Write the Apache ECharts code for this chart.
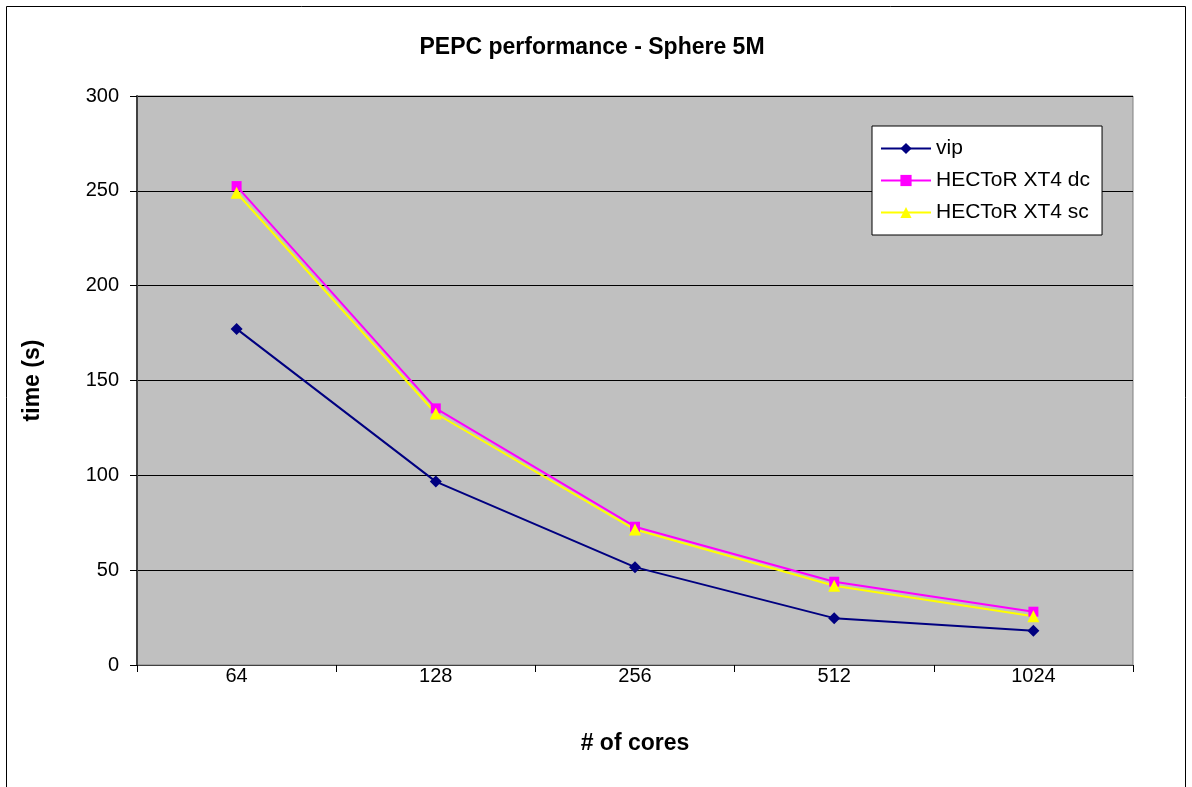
<!DOCTYPE html>
<html>
<head>
<meta charset="utf-8">
<script src="https://cdn.jsdelivr.net/npm/echarts@6/dist/echarts.min.js"></script>
<style>
html,body{margin:0;padding:0;background:#fff;}
#chart{width:1192px;height:787px;}
</style>
</head>
<body>
<div id="chart"></div>
<script>
var cores=['64','128','256','512','1024'];
var vip=[177.2,96.7,51.6,24.7,18.1];
var hectorDc=[252.5,135.3,72.9,43.9,28.1];
var hectorSc=[249,132.6,71.4,41.8,25.7];
var yTicks=[0,50,100,150,200,250,300];

var myChart=echarts.init(document.getElementById('chart'));
var font='Liberation Sans, Arial, sans-serif';
var option={
    backgroundColor:'#fff',
    animation:false,
    graphic:[
        {type:'rect',shape:{x:6.5,y:6.5,width:1179,height:800},
         style:{fill:'none',stroke:'#000',lineWidth:1},silent:true}
    ],
    title:{
        text:'PEPC performance - Sphere 5M',
        left:587,
        textAlign:'center',
        top:31,
        textStyle:{fontFamily:font,fontSize:23,fontWeight:'bold',color:'#000'}
    },
    legend:{
        orient:'vertical',
        left:872,
        top:126,
        padding:[12,12,12,8],
        itemGap:11,
        itemWidth:50,
        itemHeight:14,
        backgroundColor:'#fff',
        borderColor:'#000',
        borderWidth:1,
        borderRadius:0,
        textStyle:{fontFamily:font,fontSize:21,color:'#000'},
        data:['vip','HECToR XT4 dc','HECToR XT4 sc']
    },
    grid:{
        left:137,
        top:96,
        width:996,
        height:569,
        show:true,
        backgroundColor:'#C0C0C0',
        borderColor:'#808080',
        borderWidth:1
    },
    xAxis:{
        type:'category',
        data:cores,
        boundaryGap:true,
        name:'# of cores',
        nameLocation:'middle',
        nameGap:67,
        nameTextStyle:{fontFamily:font,fontSize:23,fontWeight:'bold',color:'#000'},
        axisLine:{lineStyle:{color:'#404040',width:1}},
        axisTick:{show:true,length:7,lineStyle:{color:'#000'}},
        axisLabel:{fontFamily:font,fontSize:20,color:'#000',margin:1}
    },
    yAxis:{
        type:'value',
        min:0,
        max:300,
        interval:50,
        name:'time (s)',
        nameLocation:'middle',
        nameGap:93,
        nameTextStyle:{fontFamily:font,fontSize:23,fontWeight:'bold',color:'#000'},
        axisLine:{show:true,lineStyle:{color:'#404040',width:2}},
        axisTick:{show:true,length:7,lineStyle:{color:'#000'}},
        axisLabel:{fontFamily:font,fontSize:20,color:'#000',margin:18,
            formatter:function(v){return yTicks.indexOf(v)>=0?String(v):'';}},
        splitLine:{show:true,lineStyle:{color:'#000',width:1}}
    },
    series:[
        {
            name:'vip',
            type:'line',
            data:vip,
            symbol:'diamond',
            symbolSize:12,
            itemStyle:{color:'#000080'},
            lineStyle:{color:'#000080',width:2}
        },
        {
            name:'HECToR XT4 dc',
            type:'line',
            data:hectorDc,
            symbol:'rect',
            symbolSize:10,
            itemStyle:{color:'#FF00FF'},
            lineStyle:{color:'#FF00FF',width:2}
        },
        {
            name:'HECToR XT4 sc',
            type:'line',
            data:hectorSc,
            symbol:'triangle',
            symbolSize:12,
            itemStyle:{color:'#FFFF00'},
            lineStyle:{color:'#FFFF00',width:2}
        }
    ]
};
myChart.setOption(option);
</script>
</body>
</html>
